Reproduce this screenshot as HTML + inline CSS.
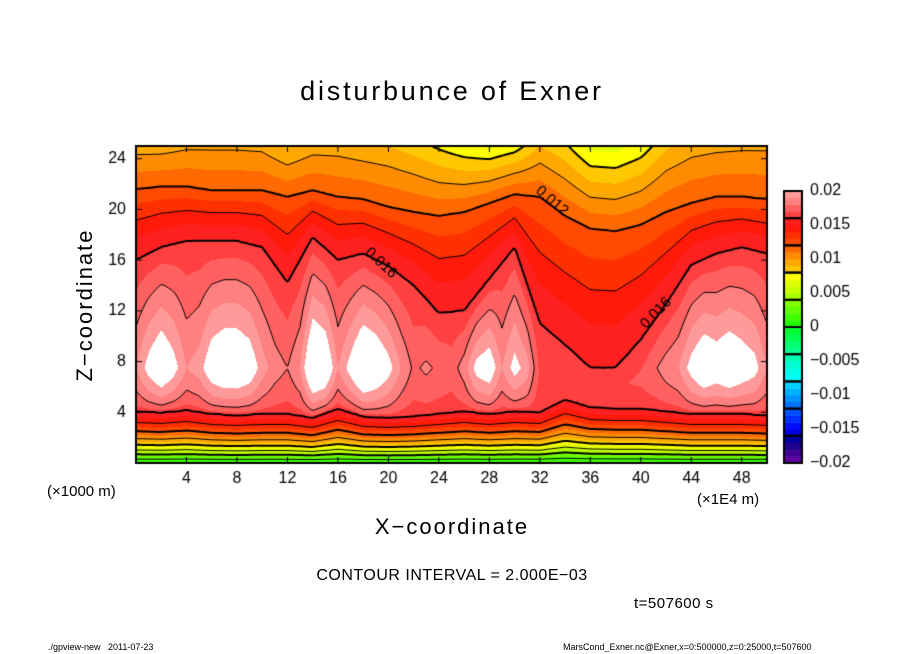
<!DOCTYPE html>
<html><head><meta charset="utf-8"><style>
html,body{margin:0;padding:0;background:#fff;}
#wrap{position:relative;width:904px;height:654px;overflow:hidden;font-family:"Liberation Sans",sans-serif;color:#000;}
.t{position:absolute;white-space:nowrap;}
</style></head><body>
<div id="wrap">
<div class="t" style="left:0;width:904px;text-align:center;top:76px;font-size:27px;letter-spacing:2.8px;">disturbunce of Exner</div>
<canvas id="cv" width="904" height="654" style="position:absolute;left:0;top:0;"></canvas>
<div class="t" style="left:0;width:904px;text-align:center;top:514px;font-size:22px;letter-spacing:2px;">X−coordinate</div>
<div class="t" style="left:-10px;top:292px;width:190px;text-align:center;font-size:22px;letter-spacing:2px;transform:rotate(-90deg);transform-origin:95px 13px;">Z−coordinate</div>
<div class="t" style="left:47px;top:483px;font-size:15px;">(×1000 m)</div>
<div class="t" style="left:697px;top:491px;font-size:15px;">(×1E4 m)</div>
<div class="t" style="left:0;width:904px;text-align:center;top:567px;font-size:16px;letter-spacing:0.5px;">CONTOUR INTERVAL = 2.000E−03</div>
<div class="t" style="left:634px;top:595px;font-size:15px;letter-spacing:0.5px;">t=507600 s</div>
<div class="t" style="left:48px;top:642px;font-size:9px;">./gpview-new&nbsp;&nbsp; 2011-07-23</div>
<div class="t" style="left:563px;top:642px;font-size:9px;">MarsCond_Exner.nc@Exner,x=0:500000,z=0:25000,t=507600</div>
</div>
<script>
// data arrays (x in 1E4 m, z in 1000 m)
const xTicks=[4,8,12,16,20,24,28,32,36,40,44,48];
const zTicks=[4,8,12,16,20,24];
const cbTicks=[0.02,0.015,0.01,0.005,0,-0.005,-0.01,-0.015,-0.02];
const cbLabels=["0.02","0.015","0.01","0.005","0","−0.005","−0.01","−0.015","−0.02"];
// columns every 2 units of x (0..50)
const zU16=[16,17,17.5,17.5,17.5,17,14.2,17.8,16,16.5,15.5,14,11.8,12,14.5,17,11,9.3,7.5,7.5,9.7,12.5,15.6,16.5,17,16.5];
const zU12=[21.6,21.8,21.8,21.5,21.5,21.5,21,21.5,21,20.8,20.2,19.8,19.5,19.8,20.5,21.2,21,19.5,18.5,18.3,18.8,19.8,20.5,21,21,20.8];
const topVal=[0.0095,0.0095,0.0098,0.0098,0.0098,0.0097,0.0088,0.0095,0.0095,0.0092,0.009,0.0085,0.0078,0.0072,0.0068,0.0074,0.009,0.0082,0.0067,0.0066,0.0073,0.0088,0.0095,0.0097,0.0098,0.0098];
const zL16=[4.1,4.0,4.2,3.9,3.8,3.9,3.9,3.6,4.3,3.7,3.6,3.7,3.9,4.1,3.9,4.1,4.0,5.0,4.4,4.3,4.3,4.1,3.9,3.9,3.9,3.8];
// columns every 1 unit of x (0..50)
const coreMax=[0.019,0.0205,0.0215,0.0205,0.019,0.0195,0.021,0.0215,0.0215,0.021,0.0195,0.0185,0.018,0.019,0.022,0.0215,0.019,0.0205,0.022,0.0215,0.0205,0.019,0.0178,0.0182,0.0178,0.0175,0.0185,0.0205,0.021,0.019,0.0205,0.0195,0.0168,0.0165,0.0168,0.0165,0.0168,0.0165,0.0168,0.017,0.0172,0.0178,0.0185,0.019,0.0205,0.0215,0.021,0.0215,0.021,0.0205,0.019];
// lower profile vs fraction of zL16
const lowerProfile=[0.0005,0.003,0.006,0.0085,0.0105,0.0122,0.0137,0.015,0.016];

const PX0=136,PX1=767,PY0=146,PY1=463,XMAX=50,ZMAX=25;
const sx=x=>PX0+(PX1-PX0)*x/XMAX, sz=z=>PY1-(PY1-PY0)*z/ZMAX;
function interp(arr,x,step){let f=x/step,i=Math.floor(f);if(i>=arr.length-1)return arr[arr.length-1];if(i<0)return arr[0];let t=f-i;return arr[i]*(1-t)+arr[i+1]*t;}
function field(x,z){
  const zl=interp(zL16,x,2),zu=interp(zU16,x,2),z12=Math.max(interp(zU12,x,2),zu+1),tv=interp(topVal,x,2),cm=interp(coreMax,x,1);
  if(z<=zl){return interp(lowerProfile,z/zl,1/(lowerProfile.length-1));}
  if(z<=zu){const zc=Math.min(7.5,zl+0.45*(zu-zl));let s;
    if(z<zc)s=Math.pow((z-zl)/(zc-zl),0.55);else s=Math.pow(Math.max(0,(zu-z)/(zu-zc)),0.85);
    return 0.016+(cm-0.016)*s;}
  if(z<=z12)return 0.016-0.004*Math.pow((z-zu)/(z12-zu),1.2);
  return 0.012+(tv-0.012)*(z-z12)/(ZMAX-z12);
}
const colors=["#6000a0","#400090","#200090","#0000a0","#0000e0","#0010ff","#0030ff","#0050ff","#0070ff","#0090ff","#00b0ff","#00d0ff","#00ffff","#00ffe8","#00ffd0","#00ffb0","#00ff90","#00ff70","#00ff50","#00ff30","#20ff00","#40ff00","#60ff00","#80ff00","#a8ff00","#c8ff00","#e0ff00","#ffff00","#ffc800","#ffa800","#ff8c00","#ff6a00","#ff4a00","#ff3000","#ff1a0a","#ff2020","#ff4040","#ff6060","#ff8080","#ff9a9a"];
function hex(c){return [parseInt(c.substr(1,2),16),parseInt(c.substr(3,2),16),parseInt(c.substr(5,2),16)];}
const rgb=colors.map(hex);
function colIdx(v){return Math.floor((v+0.02)/0.001+1e-9);}
const cv=document.getElementById('cv');const ctx=cv.getContext('2d');
const W=PX1-PX0,H=PY1-PY0;
const img=ctx.createImageData(W,H);
for(let j=0;j<H;j++){const z=(PY1-(PY0+j+0.5))*ZMAX/H;for(let i=0;i<W;i++){const x=(i+0.5)*XMAX/W;const v=field(x,z);let k=colIdx(v);let c;if(k>=40)c=[255,255,255];else c=rgb[Math.max(0,k)];const p=(j*W+i)*4;img.data[p]=c[0];img.data[p+1]=c[1];img.data[p+2]=c[2];img.data[p+3]=255;}}
ctx.putImageData(img,PX0,PY0);
// contours via marching squares
const G=2,nx=Math.floor(W/G)+1,nz=Math.floor(H/G)+1;const grid=[];
for(let j=0;j<nz;j++){grid[j]=[];for(let i=0;i<nx;i++){const px=Math.min(i*G,W),py=Math.min(j*G,H);grid[j][i]=field(px*XMAX/W,(H-py)*ZMAX/H);}}
ctx.save();ctx.beginPath();ctx.rect(PX0,PY0,W,H);ctx.clip();
for(let L=1;L<=9;L++){const lev=L*0.002;ctx.beginPath();ctx.lineWidth=(L%2==0)?2:1;ctx.strokeStyle="#000";
 for(let j=0;j<nz-1;j++)for(let i=0;i<nx-1;i++){
  const a=grid[j][i],b=grid[j][i+1],c=grid[j+1][i+1],d=grid[j+1][i];
  const x0=PX0+i*G,y0=PY0+j*G;const pts=[];
  const e=(v1,v2,p1,p2)=>{const t=(lev-v1)/(v2-v1);return [p1[0]+(p2[0]-p1[0])*t,p1[1]+(p2[1]-p1[1])*t];};
  const P=[[x0,y0],[x0+G,y0],[x0+G,y0+G],[x0,y0+G]],V=[a,b,c,d];
  for(let k=0;k<4;k++){const v1=V[k],v2=V[(k+1)%4];if((v1<lev)!=(v2<lev))pts.push(e(v1,v2,P[k],P[(k+1)%4]));}
  if(pts.length>=2){ctx.moveTo(pts[0][0],pts[0][1]);ctx.lineTo(pts[1][0],pts[1][1]);}
  if(pts.length==4){ctx.moveTo(pts[2][0],pts[2][1]);ctx.lineTo(pts[3][0],pts[3][1]);}
 }
 ctx.stroke();}
ctx.restore();
// frame
ctx.lineWidth=2;ctx.strokeStyle="#000";ctx.strokeRect(PX0,PY0,W,H);
ctx.lineWidth=1;ctx.fillStyle="#000";ctx.font="16px 'Liberation Sans', sans-serif";
ctx.textAlign="center";ctx.textBaseline="top";
xTicks.forEach(t=>{const x=sx(t);ctx.beginPath();ctx.moveTo(x,PY1);ctx.lineTo(x,PY1-6);ctx.moveTo(x,PY0);ctx.lineTo(x,PY0+6);ctx.stroke();ctx.fillText(String(t),x,471);});
ctx.textAlign="right";ctx.textBaseline="middle";
zTicks.forEach(t=>{const y=sz(t);ctx.beginPath();ctx.moveTo(PX0,y);ctx.lineTo(PX0+6,y);ctx.moveTo(PX1,y);ctx.lineTo(PX1-6,y);ctx.stroke();ctx.fillText(String(t),126,y);});
// contour labels
function lab(t,x,y,r){ctx.save();ctx.translate(x,y);ctx.rotate(r);ctx.font="15px 'Liberation Sans', sans-serif";ctx.textAlign="center";ctx.textBaseline="middle";ctx.fillStyle="#000";ctx.fillText(t,0,0);ctx.restore();}
lab("0.016",381,263,0.75);lab("0.012",552,201,0.7);lab("0.016",656,313,-0.8);
// colorbar
const CX=784,CW=18,CY0=191,CY1=463;const bh=(CY1-CY0)/40;
for(let k=0;k<40;k++){ctx.fillStyle=colors[k];ctx.fillRect(CX,CY1-(k+1)*bh,CW,bh+0.5);}
ctx.lineWidth=2;ctx.strokeStyle="#000";
for(let k=0;k<10;k++){ctx.strokeRect(CX,CY1-(k+1)*4*bh,CW,4*bh);}
ctx.fillStyle="#000";ctx.textAlign="left";ctx.textBaseline="middle";ctx.font="16px 'Liberation Sans', sans-serif";
cbTicks.forEach((v,i)=>{const y=CY1-(v+0.02)/0.04*(CY1-CY0);ctx.fillText(cbLabels[i],810,y);});


</script>
</body></html>
